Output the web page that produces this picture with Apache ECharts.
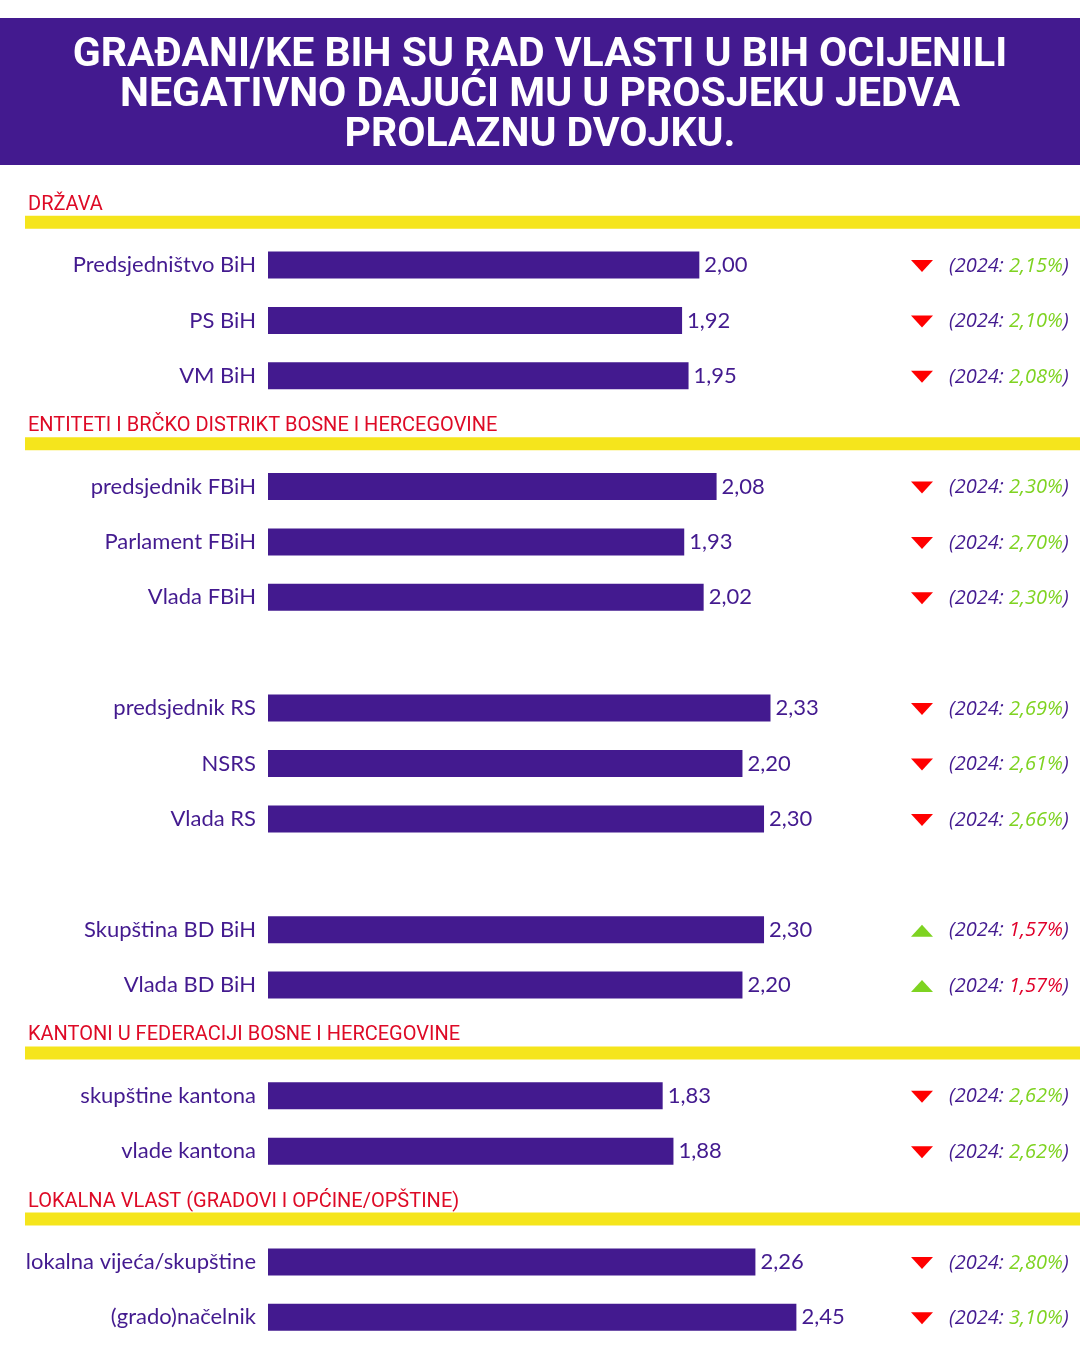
<!DOCTYPE html>
<html>
<head>
<meta charset="utf-8">
<script src="https://cdn.jsdelivr.net/npm/echarts@6.0.0/dist/echarts.min.js"></script>
<style>
  html, body { margin: 0; padding: 0; background: #fff; }
  #chart { width: 1080px; height: 1350px; }
</style>
</head>
<body>
<div id="chart"></div>
<script>
// rows of the chart, '' = section header or empty spacer row
const categories = ['', 'Predsjedništvo BiH', 'PS BiH', 'VM BiH', '', 'predsjednik FBiH', 'Parlament FBiH', 'Vlada FBiH', '',
  'predsjednik RS', 'NSRS', 'Vlada RS', '', 'Skupština BD BiH', 'Vlada BD BiH', '', 'skupštine kantona', 'vlade kantona', '',
  'lokalna vijeća/skupštine', '(grado)načelnik'];
const scores = [null, 2.00, 1.92, 1.95, null, 2.08, 1.93, 2.02, null, 2.33, 2.20, 2.30, null, 2.30, 2.20, null, 1.83, 1.88, null, 2.26, 2.45];
// ocjena iz 2024
const prev2024 = [null, 2.15, 2.10, 2.08, null, 2.30, 2.70, 2.30, null, 2.69, 2.61, 2.66, null, 1.57, 1.57, null, 2.62, 2.62, null, 2.80, 3.10];
const sectionTitles = ['DRŽAVA', 'ENTITETI I BRČKO DISTRIKT BOSNE I HERCEGOVINE', 'KANTONI U FEDERACIJI BOSNE I HERCEGOVINE', 'LOKALNA VLAST (GRADOVI I OPĆINE/OPŠTINE)'];
const sectionRows = [0, 4, 15, 18];
const titleText = 'GRAĐANI/KE BIH SU RAD VLASTI U BIH OCIJENILI\nNEGATIVNO DAJUĆI MU U PROSJEKU JEDVA\nPROLAZNU DVOJKU.';

const PURPLE = '#431a8f';
const fmt = v => v.toFixed(2).replace('.', ',');

const headerData = sectionRows.map((r, i) => [0, r, i]);
const compareData = [];
scores.forEach((v, i) => {
  if (v !== null) compareData.push([0, i, prev2024[i], v]);
});

const chart = echarts.init(document.getElementById('chart'));
const option = {
  animation: false,
  backgroundColor: '#fff',
  graphic: [{
    type: 'rect',
    left: 0, top: 18,
    shape: { width: 1080, height: 147 },
    style: { fill: PURPLE },
    z: -1
  }],
  title: {
    text: titleText,
    left: 'center',
    top: 36,
    padding: 0,
    textStyle: {
      color: '#fff',
      fontFamily: 'Roboto',
      fontWeight: 'bold',
      fontSize: 41,
      lineHeight: 40
    }
  },
  grid: { left: 268, right: 165, top: 182, bottom: 5, outerBoundsMode: 'none' },
  xAxis: {
    type: 'value', min: 0, max: 3,
    show: false
  },
  yAxis: {
    type: 'category',
    inverse: true,
    data: categories,
    axisLine: { show: false },
    axisTick: { show: false },
    splitLine: { show: false },
    axisLabel: {
      interval: 0,
      margin: 12,
      color: PURPLE,
      fontFamily: 'Lato',
      fontSize: 22
    }
  },
  series: [
    {
      name: 'ocjena',
      type: 'bar',
      data: scores,
      barWidth: 27,
      itemStyle: { color: PURPLE },
      label: {
        show: true,
        position: 'right',
        distance: 5,
        color: PURPLE,
        fontFamily: 'Lato',
        fontSize: 22,
        formatter: p => fmt(p.value)
      }
    },
    {
      // naslovi sekcija + zuta linija
      name: 'sekcije',
      type: 'custom',
      clip: false,
      encode: { x: 0, y: 1 },
      data: headerData,
      renderItem: (params, api) => {
        const y = api.coord([0, api.value(1)])[1];
        return {
          type: 'group',
          children: [{
            type: 'text',
            style: {
              text: sectionTitles[api.value(2)],
              x: 28, y: y - 5,
              verticalAlign: 'middle',
              fill: '#de0a26',
              fontFamily: 'Roboto',
              fontSize: 20
            }
          }, {
            type: 'rect',
            shape: { x: 25, y: y + 6, width: 1055, height: 13 },
            style: { fill: '#f5e51c' }
          }]
        };
      }
    },
    {
      // strelica + vrijednost iz 2024
      name: '2024',
      type: 'custom',
      clip: false,
      encode: { x: 0, y: 1 },
      data: compareData,
      renderItem: (params, api) => {
        const y = api.coord([0, api.value(1)])[1] + 1;
        const prev = api.value(2);
        const up = api.value(3) > prev;
        const pts = up
          ? [[911, y + 6], [933, y + 6], [922, y - 6]]
          : [[911, y - 6], [933, y - 6], [922, y + 6]];
        return {
          type: 'group',
          children: [{
            type: 'polygon',
            shape: { points: pts },
            style: { fill: up ? '#7ed321' : '#ff0000' }
          }, {
            type: 'text',
            style: {
              text: '{a|(2024: }{b|' + fmt(prev) + '%}{a|)}',
              x: 949, y: y,
              verticalAlign: 'middle',
              rich: {
                a: { fill: PURPLE, fontFamily: 'Open Sans', fontStyle: 'italic', fontSize: 20 },
                b: { fill: up ? '#e0002a' : '#7ed321', fontFamily: 'Open Sans', fontStyle: 'italic', fontSize: 20 }
              }
            }
          }]
        };
      }
    }
  ]
};
chart.setOption(option);
</script>
</body>
</html>
